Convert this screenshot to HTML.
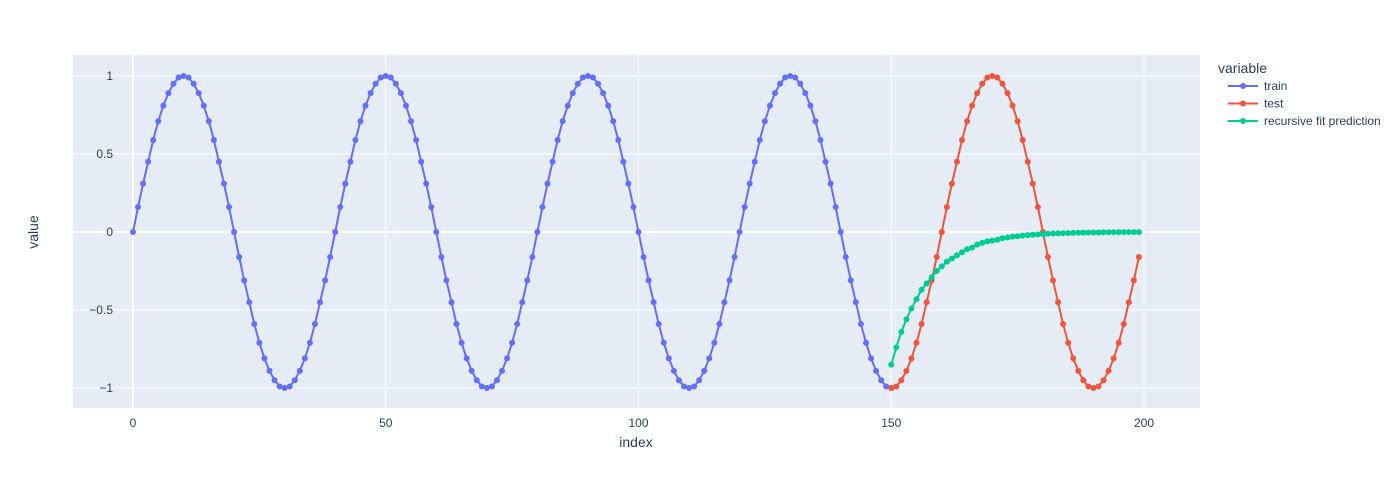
<!DOCTYPE html>
<html><head><meta charset="utf-8"><style>
body{margin:0;background:#fff;}
svg text{font-family:"Liberation Sans",Arial,sans-serif;fill:#2a3f5f;}
</style></head><body>
<svg id="c" width="1400" height="483" xmlns="http://www.w3.org/2000/svg">
<rect x="73" y="55" width="1127" height="353" fill="#E5ECF6"/>
<g id="grid"></g><g id="series"></g><g id="ticks"></g>
<text x="636" y="447" font-size="14" text-anchor="middle">index</text>
<text x="38" y="232" font-size="14" text-anchor="middle" transform="rotate(-90 38 232)">value</text>
<g>
<text x="1218" y="73" font-size="14">variable</text>
<g id="legend"></g>
</g>
</svg>
<script>
const trainX0 = 0;
const trainValues = [0,.16,.31,.45,.59,.71,.81,.89,.95,.99,1,.99,.95,.89,.81,.71,.59,.45,.31,.16,0,-.16,-.31,-.45,-.59,-.71,-.81,-.89,-.95,-.99,-1,-.99,-.95,-.89,-.81,-.71,-.59,-.45,-.31,-.16,
0,.16,.31,.45,.59,.71,.81,.89,.95,.99,1,.99,.95,.89,.81,.71,.59,.45,.31,.16,0,-.16,-.31,-.45,-.59,-.71,-.81,-.89,-.95,-.99,-1,-.99,-.95,-.89,-.81,-.71,-.59,-.45,-.31,-.16,
0,.16,.31,.45,.59,.71,.81,.89,.95,.99,1,.99,.95,.89,.81,.71,.59,.45,.31,.16,0,-.16,-.31,-.45,-.59,-.71,-.81,-.89,-.95,-.99,-1,-.99,-.95,-.89,-.81,-.71,-.59,-.45,-.31,-.16,
0,.16,.31,.45,.59,.71,.81,.89,.95,.99,1,.99,.95,.89,.81,.71,.59,.45,.31,.16,0,-.16,-.31,-.45,-.59,-.71,-.81,-.89,-.95,-.99,-1];
const testX0 = 150;
const testValues = [-1,-.99,-.95,-.89,-.81,-.71,-.59,-.45,-.31,-.16,
0,.16,.31,.45,.59,.71,.81,.89,.95,.99,1,.99,.95,.89,.81,.71,.59,.45,.31,.16,0,-.16,-.31,-.45,-.59,-.71,-.81,-.89,-.95,-.99,-1,-.99,-.95,-.89,-.81,-.71,-.59,-.45,-.31,-.16];
const predX0 = 150;
const predValues = [-.85,-.74,-.64,-.56,-.49,-.43,-.37,-.33,-.29,-.25,-.22,-.19,-.17,-.15,-.13,-.11,-.1,-.08,-.07,-.06,-.055,-.05,-.04,-.035,-.03,-.027,-.023,-.02,-.018,-.015,-.013,-.011,-.01,-.009,-.008,-.007,-.006,-.005,-.004,-.004,-.003,-.003,-.002,-.002,-.002,-.001,-.001,-.001,-.001,-.001];
const xTicks = [0,50,100,150,200];
const yTicks = [1,0.5,0,-0.5,-1];
const yTickLabels = ["1","0.5","0","−0.5","−1"];
const seriesNames = ["train","test","recursive fit prediction"];
const colors = ["#636efa","#EF553B","#00cc96"];

const NS="http://www.w3.org/2000/svg";
const X=v=>133+v*(1144-133)/200;
const Y=v=>232-v*156;
function mk(t,a,p){const e=document.createElementNS(NS,t);for(const k in a)e.setAttribute(k,a[k]);p.appendChild(e);return e;}
const grid=document.getElementById('grid'),ticks=document.getElementById('ticks'),ser=document.getElementById('series'),leg=document.getElementById('legend');
xTicks.forEach(t=>{const l=mk('line',{x1:X(t),x2:X(t),y1:55,y2:408,stroke:'#fff','stroke-width':t===0?2:1},grid);

const tx=mk('text',{x:X(t),y:427,'font-size':12,'text-anchor':'middle'},ticks);tx.textContent=t;
});
yTicks.forEach((t,i)=>{const l=mk('line',{x1:73,x2:1200,y1:Y(t),y2:Y(t),stroke:'#fff','stroke-width':t===0?2:1},grid);

const tx=mk('text',{x:113,y:Y(t)+4,'font-size':12,'text-anchor':'end'},ticks);tx.textContent=yTickLabels[i];
});
[[trainX0,trainValues],[testX0,testValues],[predX0,predValues]].forEach(([x0,vals],s)=>{
const g=mk('g',{},ser);
const pts=vals.map((v,i)=>X(x0+i).toFixed(2)+','+Y(v).toFixed(2)).join(' ');
const pl=mk('polyline',{points:pts,fill:'none',stroke:colors[s],'stroke-width':2},g);

vals.forEach((v,i)=>{const c=mk('circle',{cx:X(x0+i),cy:Y(v),r:3,fill:colors[s]},g);
});
const ly=86+s*17.5;
const lg=mk('g',{},leg);
mk('line',{x1:1228,x2:1258,y1:ly,y2:ly,stroke:colors[s],'stroke-width':2},lg);
mk('circle',{cx:1243,cy:ly,r:3,fill:colors[s]},lg);
const t=mk('text',{x:1264,y:ly+4,'font-size':12},lg);t.textContent=seriesNames[s];});
</script>
</body></html>
